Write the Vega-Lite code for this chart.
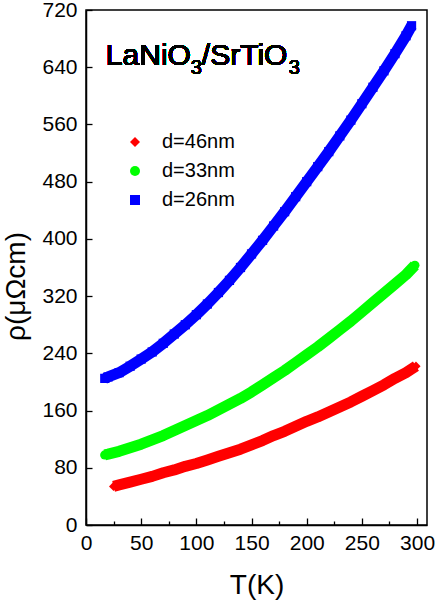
{
  "$schema": "https://vega.github.io/schema/vega-lite/v6.json",
  "autosize": {"type": "none"},
  "width": 341,
  "height": 515,
  "padding": {"left": 86, "top": 10, "right": 9, "bottom": 77},
  "background": "white",
  "config": {
    "font": "Liberation Sans",
    "view": {"stroke": "black", "strokeWidth": 1.5},
    "axis": {"grid": false, "domainColor": "black", "domainWidth": 1.5, "tickColor": "black", "tickWidth": 1.3, "labelColor": "black", "titleColor": "black", "labelFont": "Liberation Sans", "titleFont": "Liberation Sans", "titleFontWeight": "normal"},
    "legend": {"labelFont": "Liberation Sans"}
  },
  "resolve": {"legend": {"color": "independent", "shape": "independent"}},
  "datasets": {
    "rho": [
      {"series": "d=46nm", "T": 25, "rho": 54}, {"series": "d=46nm", "T": 30, "rho": 56}, {"series": "d=46nm", "T": 40, "rho": 60}, {"series": "d=46nm", "T": 50, "rho": 64}, {"series": "d=46nm", "T": 60, "rho": 68}, {"series": "d=46nm", "T": 70, "rho": 73}, {"series": "d=46nm", "T": 80, "rho": 77}, {"series": "d=46nm", "T": 90, "rho": 82}, {"series": "d=46nm", "T": 100, "rho": 86}, {"series": "d=46nm", "T": 110, "rho": 91}, {"series": "d=46nm", "T": 120, "rho": 96}, {"series": "d=46nm", "T": 130, "rho": 101}, {"series": "d=46nm", "T": 140, "rho": 106}, {"series": "d=46nm", "T": 150, "rho": 112}, {"series": "d=46nm", "T": 160, "rho": 118}, {"series": "d=46nm", "T": 170, "rho": 125}, {"series": "d=46nm", "T": 180, "rho": 131}, {"series": "d=46nm", "T": 190, "rho": 138}, {"series": "d=46nm", "T": 200, "rho": 145}, {"series": "d=46nm", "T": 210, "rho": 151}, {"series": "d=46nm", "T": 220, "rho": 158}, {"series": "d=46nm", "T": 230, "rho": 165}, {"series": "d=46nm", "T": 240, "rho": 172}, {"series": "d=46nm", "T": 250, "rho": 180}, {"series": "d=46nm", "T": 260, "rho": 188}, {"series": "d=46nm", "T": 270, "rho": 196}, {"series": "d=46nm", "T": 280, "rho": 205}, {"series": "d=46nm", "T": 290, "rho": 213}, {"series": "d=46nm", "T": 299, "rho": 222},
      {"series": "d=33nm", "T": 17, "rho": 98}, {"series": "d=33nm", "T": 20, "rho": 99}, {"series": "d=33nm", "T": 30, "rho": 103}, {"series": "d=33nm", "T": 40, "rho": 108}, {"series": "d=33nm", "T": 50, "rho": 113}, {"series": "d=33nm", "T": 60, "rho": 119}, {"series": "d=33nm", "T": 70, "rho": 125}, {"series": "d=33nm", "T": 80, "rho": 132}, {"series": "d=33nm", "T": 90, "rho": 139}, {"series": "d=33nm", "T": 100, "rho": 146}, {"series": "d=33nm", "T": 110, "rho": 153}, {"series": "d=33nm", "T": 120, "rho": 161}, {"series": "d=33nm", "T": 130, "rho": 169}, {"series": "d=33nm", "T": 140, "rho": 177}, {"series": "d=33nm", "T": 150, "rho": 186}, {"series": "d=33nm", "T": 160, "rho": 196}, {"series": "d=33nm", "T": 170, "rho": 206}, {"series": "d=33nm", "T": 180, "rho": 216}, {"series": "d=33nm", "T": 190, "rho": 227}, {"series": "d=33nm", "T": 200, "rho": 238}, {"series": "d=33nm", "T": 210, "rho": 249}, {"series": "d=33nm", "T": 220, "rho": 261}, {"series": "d=33nm", "T": 230, "rho": 273}, {"series": "d=33nm", "T": 240, "rho": 285}, {"series": "d=33nm", "T": 250, "rho": 298}, {"series": "d=33nm", "T": 260, "rho": 311}, {"series": "d=33nm", "T": 270, "rho": 324}, {"series": "d=33nm", "T": 280, "rho": 337}, {"series": "d=33nm", "T": 290, "rho": 350}, {"series": "d=33nm", "T": 298, "rho": 363},
      {"series": "d=26nm", "T": 17, "rho": 205}, {"series": "d=26nm", "T": 20, "rho": 207}, {"series": "d=26nm", "T": 30, "rho": 213}, {"series": "d=26nm", "T": 40, "rho": 222}, {"series": "d=26nm", "T": 50, "rho": 232}, {"series": "d=26nm", "T": 60, "rho": 242}, {"series": "d=26nm", "T": 70, "rho": 254}, {"series": "d=26nm", "T": 80, "rho": 267}, {"series": "d=26nm", "T": 90, "rho": 280}, {"series": "d=26nm", "T": 100, "rho": 294}, {"series": "d=26nm", "T": 110, "rho": 309}, {"series": "d=26nm", "T": 120, "rho": 325}, {"series": "d=26nm", "T": 130, "rho": 342}, {"series": "d=26nm", "T": 140, "rho": 360}, {"series": "d=26nm", "T": 150, "rho": 379}, {"series": "d=26nm", "T": 160, "rho": 398}, {"series": "d=26nm", "T": 170, "rho": 418}, {"series": "d=26nm", "T": 180, "rho": 438}, {"series": "d=26nm", "T": 190, "rho": 459}, {"series": "d=26nm", "T": 200, "rho": 480}, {"series": "d=26nm", "T": 210, "rho": 501}, {"series": "d=26nm", "T": 220, "rho": 522}, {"series": "d=26nm", "T": 230, "rho": 544}, {"series": "d=26nm", "T": 240, "rho": 566}, {"series": "d=26nm", "T": 250, "rho": 589}, {"series": "d=26nm", "T": 260, "rho": 612}, {"series": "d=26nm", "T": 270, "rho": 635}, {"series": "d=26nm", "T": 280, "rho": 659}, {"series": "d=26nm", "T": 290, "rho": 684}, {"series": "d=26nm", "T": 295, "rho": 698}
    ]
  },
  "data": {"name": "rho"},
  "encoding": {
    "x": {
      "field": "T", "type": "quantitative",
      "scale": {"domain": [0, 309], "nice": false, "zero": false},
      "axis": {
        "title": "T(K)", "titleFontSize": 28, "titleY": 68, "titleBaseline": "alphabetic",
        "values": [0, 25, 50, 75, 100, 125, 150, 175, 200, 225, 250, 275, 300],
        "labelExpr": "datum.value % 50 === 0 ? datum.label : ''",
        "labelFontSize": 21, "labelPadding": 14, "labelFlush": false,
        "tickSize": {"condition": {"test": "datum.value % 50 === 0", "value": -7}, "value": -4}
      }
    },
    "y": {
      "field": "rho", "type": "quantitative",
      "scale": {"domain": [0, 720], "nice": false},
      "axis": {
        "title": "ρ(μΩcm)", "titleFontSize": 28, "titleX": -70, "titleY": 276, "titleBaseline": "middle", "titleAlign": "center", "titleAngle": -90,
        "values": [0, 80, 160, 240, 320, 400, 480, 560, 640, 720],
        "labelFontSize": 21, "labelPadding": 15, "labelFlush": false,
        "tickSize": -6
      }
    }
  },
  "layer": [
    {
      "mark": {"type": "line", "strokeWidth": 11, "strokeCap": "butt", "strokeJoin": "round"},
      "encoding": {
        "color": {"field": "series", "type": "nominal", "scale": {"domain": ["d=46nm", "d=33nm", "d=26nm"], "range": ["#ff0000", "#00ff00", "#0000ff"]}, "legend": null},
        "detail": {"field": "series"}
      }
    },
    {
      "mark": {"type": "point", "filled": true, "opacity": 1, "size": 85, "strokeWidth": 0},
      "encoding": {
        "color": {"field": "series", "type": "nominal", "scale": {"domain": ["d=46nm", "d=33nm", "d=26nm"], "range": ["#ff0000", "#00ff00", "#0000ff"]},
          "legend": {"title": null, "orient": "none", "legendX": 39, "legendY": 122, "labelFontSize": 20, "labelColor": "black", "symbolSize": 100, "rowPadding": 9, "labelOffset": 17, "symbolStrokeWidth": 0}},
        "shape": {"field": "series", "type": "nominal", "scale": {"domain": ["d=46nm", "d=33nm", "d=26nm"], "range": ["diamond", "circle", "square"]},
          "legend": {"title": null, "orient": "none", "legendX": 39, "legendY": 122, "labelFontSize": 20, "labelColor": "black", "symbolSize": 100, "rowPadding": 9, "labelOffset": 17, "symbolStrokeWidth": 0}}
      }
    },
    {
      "mark": {"type": "text", "fontSize": 30, "align": "left", "baseline": "alphabetic", "color": "black", "font": "Liberation Sans"},
      "encoding": {"x": {"datum": 18}, "y": {"datum": 643}, "text": {"value": "LaNiO"}}
    },
    {
      "mark": {"type": "text", "fontSize": 20, "align": "left", "baseline": "alphabetic", "color": "black", "font": "Liberation Sans", "dx": 85, "dy": 9},
      "encoding": {"x": {"datum": 18}, "y": {"datum": 643}, "text": {"value": "3"}}
    },
    {
      "mark": {"type": "text", "fontSize": 30, "align": "left", "baseline": "alphabetic", "color": "black", "font": "Liberation Sans", "dx": 96},
      "encoding": {"x": {"datum": 18}, "y": {"datum": 643}, "text": {"value": "/SrTiO"}}
    },
    {
      "mark": {"type": "text", "fontSize": 20, "align": "left", "baseline": "alphabetic", "color": "black", "font": "Liberation Sans", "dx": 183, "dy": 9},
      "encoding": {"x": {"datum": 18}, "y": {"datum": 643}, "text": {"value": "3"}}
    }
  ]
}
